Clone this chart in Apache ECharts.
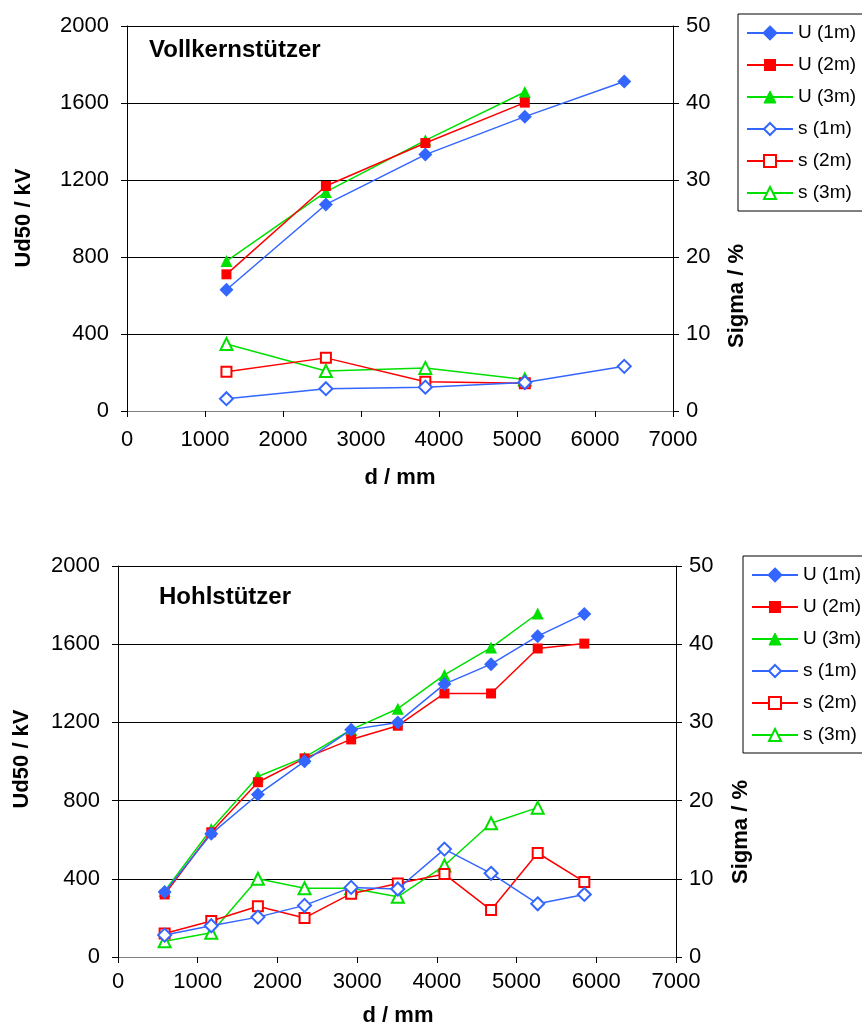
<!DOCTYPE html>
<html>
<head>
<meta charset="utf-8">
<script src="https://cdn.jsdelivr.net/npm/echarts@6/dist/echarts.min.js"></script>
<style>
html,body{margin:0;padding:0;background:#fff;}
#c{width:862px;height:1032px;}
</style>
</head>
<body>
<div id="c"></div>
<script>
// ---- Data ----
var seriesNames = ['U (1m)', 'U (2m)', 'U (3m)', 's (1m)', 's (2m)', 's (3m)'];
var xTicks = [0, 1000, 2000, 3000, 4000, 5000, 6000, 7000];
var yLeftTicks = [0, 400, 800, 1200, 1600, 2000];
var yRightTicks = [0, 10, 20, 30, 40, 50];

// Top chart: Vollkernstützer
var xTop = [1275, 2550, 3825, 5100, 6375];
var topU1 = [630, 1073, 1332, 1529, 1712];
var topU2 = [710, 1169, 1392, 1602];
var topU3 = [779, 1138, 1406, 1657];
var topS1 = [1.6, 2.9, 3.1, 3.7, 5.8];
var topS2 = [5.1, 6.9, 3.8, 3.6];
var topS3 = [8.7, 5.2, 5.6, 4.1];

// Bottom chart: Hohlstützer
var xBot = [585, 1170, 1755, 2340, 2925, 3510, 4095, 4680, 5265, 5850];
var botU1 = [332, 630, 831, 1001, 1163, 1200, 1396, 1498, 1641, 1755];
var botU2 = [320, 638, 894, 1016, 1113, 1183, 1348, 1348, 1578, 1603];
var botU3 = [337, 655, 923, 1021, 1163, 1270, 1443, 1583, 1757];
var botS1 = [2.8, 4.0, 5.1, 6.6, 8.9, 8.7, 13.8, 10.7, 6.8, 8.0];
var botS2 = [3.0, 4.6, 6.5, 5.0, 8.1, 9.4, 10.6, 6.0, 13.3, 9.6];
var botS3 = [2.0, 3.1, 10.0, 8.8, 8.8, 7.7, 11.7, 17.1, 19.1];

// ---- Styles ----
var BLUE = '#3366ff', RED = '#ff0000', GREEN = '#00e000';
var FONT = 'Liberation Sans, Arial, sans-serif';
var styles = [
  {color: BLUE, symbol: 'diamond', size: 14, legendBorder: 2.5},
  {color: RED, symbol: 'rect', size: 10, legendBorder: 0},
  {color: GREEN, symbol: 'triangle', size: 12, legendBorder: 1},
  {color: BLUE, symbol: 'emptyDiamond', size: 13, legendBorder: 1.5},
  {color: RED, symbol: 'emptyRect', size: 10, legendBorder: 1.5},
  {color: GREEN, symbol: 'emptyTriangle', size: 12, legendBorder: 1.5}
];

function pairs(xs, ys) {
  var out = [];
  for (var i = 0; i < ys.length; i++) out.push([xs[i], ys[i]]);
  return out;
}

function mkSeries(idx, gridIdx, xs, ys) {
  var st = styles[idx];
  var right = idx >= 3;
  return {
    name: seriesNames[idx],
    type: 'line',
    xAxisIndex: gridIdx,
    yAxisIndex: gridIdx * 2 + (right ? 1 : 0),
    data: pairs(xs, ys),
    symbol: st.symbol,
    symbolSize: st.size,
    showAllSymbol: true,
    lineStyle: {color: st.color, width: 1.5},
    itemStyle: {color: st.color, borderColor: st.color, borderWidth: right ? 1.5 : 0},
    animation: false,
    z: 10 - idx
  };
}

var grids = [
  {left: 127, right: 862 - 673, top: 26, height: 385},
  {left: 118, right: 862 - 676, top: 566, height: 391}
];

function plain(v) { return String(v); }

function xAx(g, margin) {
  return {
    type: 'value', gridIndex: g, min: xTicks[0], max: xTicks[xTicks.length - 1], interval: 1000,
    axisLine: {show: true, onZero: false, lineStyle: {color: '#808080', width: 1}},
    axisTick: {show: true, inside: false, length: 6, lineStyle: {color: '#000'}},
    axisLabel: {color: '#000', fontSize: 22, fontFamily: FONT, margin: margin, formatter: plain},
    splitLine: {show: false}
  };
}
function yLeft(g, margin) {
  return {
    type: 'value', gridIndex: g, position: 'left', min: yLeftTicks[0], max: yLeftTicks[yLeftTicks.length - 1], interval: 400,
    axisLine: {show: true, onZero: false, lineStyle: {color: '#000', width: 1}},
    axisTick: {show: true, length: 6, lineStyle: {color: '#000'}},
    axisLabel: {color: '#000', fontSize: 22, fontFamily: FONT, margin: margin, formatter: plain},
    splitLine: {show: true, lineStyle: {color: '#000', width: 1}}
  };
}
function yRight(g, margin) {
  return {
    type: 'value', gridIndex: g, position: 'right', min: yRightTicks[0], max: yRightTicks[yRightTicks.length - 1], interval: 10,
    axisLine: {show: true, onZero: false, lineStyle: {color: '#000', width: 1}},
    axisTick: {show: true, length: 6, lineStyle: {color: '#000'}},
    axisLabel: {color: '#000', fontSize: 22, fontFamily: FONT, margin: margin, formatter: plain},
    splitLine: {show: false}
  };
}

function legendData() {
  var out = [];
  for (var i = 0; i < seriesNames.length; i++) {
    out.push({
      name: seriesNames[i],
      itemStyle: {borderColor: styles[i].color, borderWidth: styles[i].legendBorder}
    });
  }
  return out;
}

function legend(left, top) {
  return {
    orient: 'vertical', left: left, top: top,
    data: legendData(),
    itemWidth: 46, itemHeight: 15, itemGap: 12,
    padding: [9, 30, 8, 8],
    borderColor: '#000', borderWidth: 1,
    backgroundColor: '#fff',
    selectedMode: false,
    textStyle: {color: '#000', fontSize: 19, fontFamily: FONT, lineHeight: 20, padding: [0, 0, 0, 0]},
    inactiveColor: '#000'
  };
}

function txt(x, y, s, rot, size, align) {
  return {
    type: 'text', x: x, y: y, rotation: rot || 0,
    style: {text: s, fontSize: size || 22, fontWeight: 'bold', fontFamily: FONT, fill: '#000',
            align: align || 'center', verticalAlign: 'middle'},
    z: 100
  };
}

var series = [];
var topY = [topU1, topU2, topU3, topS1, topS2, topS3];
var botY = [botU1, botU2, botU3, botS1, botS2, botS3];
for (var i = 0; i < 6; i++) series.push(mkSeries(i, 0, xTop, topY[i]));
for (var j = 0; j < 6; j++) series.push(mkSeries(j, 1, xBot, botY[j]));

var option = {
  backgroundColor: '#fff',
  animation: false,
  grid: grids,
  xAxis: [xAx(0, 18), xAx(1, 14)],
  yAxis: [yLeft(0, 18), yRight(0, 13), yLeft(1, 18), yRight(1, 13)],
  legend: [legend(738, 14), legend(743, 556)],
  series: series,
  graphic: [
    txt(149, 50, 'Vollkernstützer', 0, 24, 'left'),
    txt(159, 597, 'Hohlstützer', 0, 24, 'left'),
    txt(24, 218, 'Ud50 / kV', Math.PI / 2, 22),
    txt(22, 759, 'Ud50 / kV', Math.PI / 2, 22),
    txt(737, 296, 'Sigma / %', Math.PI / 2, 22),
    txt(741, 832, 'Sigma / %', Math.PI / 2, 22),
    txt(400, 478, 'd / mm', 0, 22),
    txt(398, 1016, 'd / mm', 0, 22)
  ]
};

var chart = echarts.init(document.getElementById('c'), null, {renderer: 'canvas'});
chart.setOption(option);
</script>
</body>
</html>
